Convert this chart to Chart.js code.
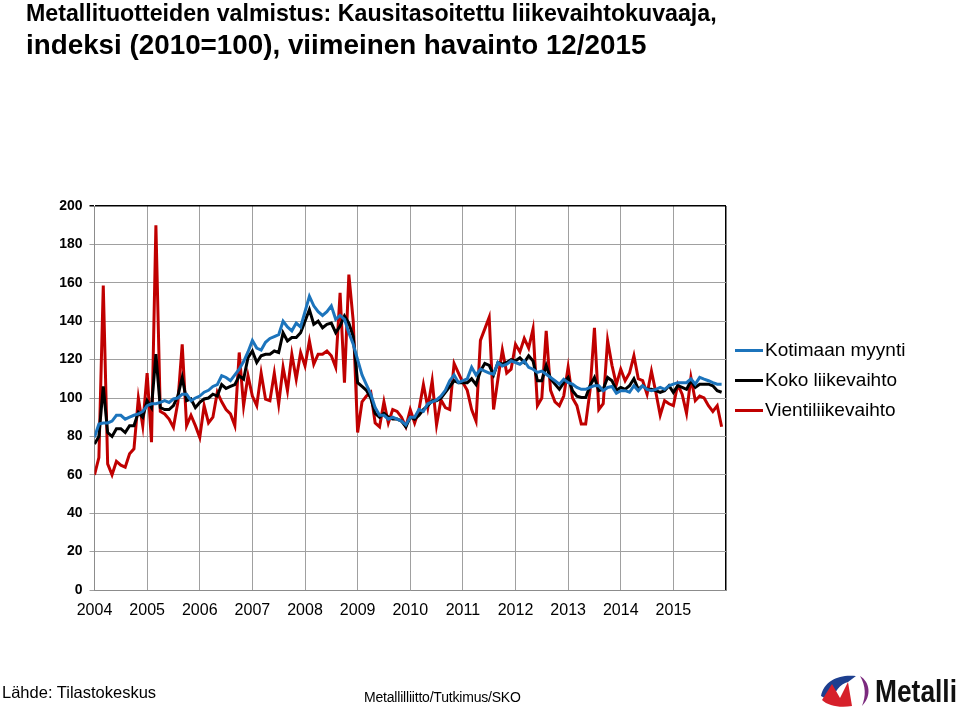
<!DOCTYPE html>
<html>
<head>
<meta charset="utf-8">
<script src="https://cdn.jsdelivr.net/npm/chart.js@4.4.1/dist/chart.umd.min.js"></script>
<style>
  body { margin: 0; background: #fff; }
  #wrap { position: relative; width: 960px; height: 710px; overflow: hidden; font-family: "Liberation Sans", Arial, sans-serif; }
  #Graph { position: absolute; left: 0; top: 0; }
  .title { position: absolute; left: 26px; font-weight: bold; color: #000; white-space: nowrap; }
  #legend { position: absolute; left: 735px; top: 335px; }
  .row { height: 30px; display: flex; align-items: center; font-size: 19px; white-space: nowrap; }
  .row span.ln { display: inline-block; width: 28px; height: 3px; margin-right: 2px; }
  .foot { position: absolute; white-space: nowrap; color: #000; }
</style>
</head>
<body>
<div id="wrap">
  <canvas id="Graph" width="960" height="710"></canvas>
  <div class="title" style="top:0px; font-size:23.2px;">Metallituotteiden valmistus: Kausitasoitettu liikevaihtokuvaaja,</div>
  <div class="title" style="top:29px; font-size:27.8px;">indeksi (2010=100), viimeinen havainto 12/2015</div>
  <div id="legend"></div>
  <div class="foot" style="left:2px; top:683px; font-size:16.5px;">Lähde: Tilastokeskus</div>
  <div class="foot" style="left:364px; top:689px; font-size:14px; letter-spacing:-0.2px;">Metallilliitto/Tutkimus/SKO</div>
  <svg style="position:absolute; left:818px; top:670px" width="140" height="40" viewBox="0 0 140 40">
    <path d="M3 26 C6 10 22 4 38 6 L30 12 C22 14 16 22 14 32 Z" fill="#1d3f8f"/>
    <path d="M4 30 L14 14 L22 28 L30 12 L34 36 C22 38 10 36 4 30 Z" fill="#d6202a"/>
    <path d="M42 6 C52 12 54 26 44 36 C48 26 48 16 42 6 Z" fill="#7b2a7e"/>
    <text x="57" y="32" font-family="Liberation Sans Narrow, Liberation Sans, Arial" font-weight="bold" font-size="31" fill="#111" textLength="82" lengthAdjust="spacingAndGlyphs">Metalli</text>
  </svg>
</div>
<script>
// vuodet (x-akselin tunnisteet), kuukausittaiset indeksit 1/2004 - 12/2015
years = ['2004','2005','2006','2007','2008','2009','2010','2011','2012','2013','2014','2015'];
yTicks = [0, 20, 40, 60, 80, 100, 120, 140, 160, 180, 200];
names = ['Kotimaan myynti', 'Koko liikevaihto', 'Vientiliikevaihto'];
colors = ['#1c74bc', '#000000', '#c00000'];

kotimaan = [
  79.5, 86.5, 87, 87, 88, 91, 91, 89, 90, 91, 91.7, 93,
  96, 97, 97, 97.7, 98.6, 97.7, 99.5, 100, 102, 102, 98.6, 100,
  101, 103, 104, 106, 107, 111.6, 110.7, 109, 112, 115, 119, 124,
  130, 126, 125, 129, 131, 132, 133, 140, 137, 135, 139, 137,
  145, 153, 148, 145, 143, 145, 148, 141, 143, 141, 134, 128,
  120, 112, 107, 102, 95, 91, 91, 89, 90, 89, 88, 86,
  90, 90, 94, 93, 97, 98, 99, 101, 104, 109, 112, 108,
  109, 110, 116, 112, 115, 114, 113, 112.4, 118.5, 116.7, 117.6, 119.3,
  118.5, 117.6, 119.3, 116, 115, 113.3, 114, 112.4, 110.7, 109, 107.2, 109.8,
  108, 107.2, 105.5, 104.5, 104.5, 105.5, 106.4, 106.4, 103.8, 105.5, 106, 102.5,
  103.8, 103.8, 103, 106.4, 103.8, 106.4, 104.5, 103.8, 104.5, 105.5, 104.5, 106.4,
  107.2, 108, 108, 108, 110, 107.2, 110.7, 109.8, 109, 108, 107.2, 107.2
];

koko = [
  76, 80, 106, 82, 80, 84, 84, 82, 85.6, 85.6, 92.5, 90,
  98.6, 95, 122.8, 95, 94, 94, 96, 101, 110.7, 98.6, 99.5, 95,
  97.7, 99.5, 100, 102, 101, 107, 105, 106, 107, 111.6, 109.8, 121,
  124.5, 118.5, 122, 122.8, 122.8, 124.5, 123.7, 134, 129.7, 131.5, 131.5, 134,
  140, 146, 138.4, 140, 136.6, 138.4, 139, 134, 137.5, 142.7, 139, 132,
  108, 106, 104, 100, 92, 90, 92, 90, 89, 89, 88, 85,
  90, 89, 91, 94, 96, 98.6, 98.6, 100, 103, 106, 109, 108,
  108, 108, 110, 107, 114, 118, 117, 112, 118.5, 117.6, 118.5, 120,
  119.3, 121, 118.5, 122, 119.3, 109, 109, 117, 110, 107.2, 104.5, 108,
  110.7, 103.8, 101, 100.3, 100.3, 106.4, 110.7, 103.8, 104.5, 110.7, 109, 104,
  105.5, 104.5, 106.4, 110, 104.5, 106.4, 104.5, 104.5, 103.8, 102.9, 103.8, 106.4,
  102.9, 106.4, 105.5, 104.5, 109, 105.5, 107.2, 107.2, 107.2, 106.4, 103.8, 103
];

vienti = [
  60, 69, 158.6, 65.7, 60, 67, 65, 64, 71, 73.5, 100, 85.6,
  113, 77, 190, 93, 91.7, 89, 84.7, 97.7, 128, 85.6, 91, 85.6,
  79.5, 96, 87, 90, 103, 98, 94, 91.7, 85.6, 123.7, 96, 111.6,
  101, 96, 113, 99.4, 98.6, 113, 96.8, 116, 103.8, 122.8, 109.8, 123.7,
  116.7, 129.7, 117.6, 122.8, 122.8, 124.5, 122, 116, 154.8, 108, 164.3, 140,
  82, 98, 101, 103, 87, 85, 98, 87, 94, 93, 90, 85,
  94, 87, 94, 107, 95, 109, 86, 99, 95, 94, 118, 113,
  108, 104, 94, 88, 130, 136, 142, 94, 110, 125, 113, 115,
  128, 124, 131, 126, 136, 96, 100, 135, 104, 98, 96, 101,
  116, 100, 96, 86.5, 86.5, 104, 136.5, 94, 97, 130, 117, 107,
  115, 109, 113, 122, 110, 109, 102, 114, 103, 91, 98.6, 97,
  96, 107, 102, 92, 110.7, 98.6, 101, 100, 96, 93, 96, 85
];

function toPoints(arr) {
    return arr.map(function(v, i) { return {x: i, y: v}; });
}

series = [kotimaan, koko, vienti];
datasets = [];
for (let i = 0; i < series.length; i++) {
    datasets.push({
        label: names[i],
        data: toPoints(series[i]),
        borderColor: colors[i],
        backgroundColor: colors[i],
        borderWidth: 3,
        pointRadius: 0,
        fill: false,
        lineTension: 0
    });
}

// legenda html:nä
legend = document.getElementById("legend");
for (let i = 0; i < names.length; i++) {
    let row = document.createElement("div");
    row.className = "row";
    row.innerHTML = '<span class="ln" style="background:' + colors[i] + '"></span>' + names[i];
    legend.appendChild(row);
}

var chart = new Chart("Graph", {
    type: "line",
    data: { datasets: datasets },
    options: {
        responsive: false,
        animation: false,
        layout: { padding: { left: 0, top: 206, right: 234, bottom: 0 } },
        plugins: {
            legend: { display: false },
            title: { display: false },
            tooltip: { enabled: false }
        },
        scales: {
            x: {
                type: "linear",
                min: 0,
                max: years.length * 12,
                afterFit: function(s) { s.height = 120; },
                afterBuildTicks: function(s) {
                    s.ticks = [];
                    for (let v = 0; v <= years.length * 12; v += 12) s.ticks.push({value: v});
                },
                ticks: {
                    padding: 11,
                    color: "#000",
                    font: { family: "Liberation Sans", size: 16 },
                    maxRotation: 0,
                    autoSkip: false,
                    callback: function(v) { return years[v / 12] || ""; }
                },
                grid: {
                    drawTicks: false,
                    color: function(c) { return c.tick && c.tick.value === years.length * 12 ? "#000" : "#a0a0a0"; },
                    lineWidth: function(c) { return c.tick && c.tick.value === years.length * 12 ? 1.5 : 1; }
                },
                border: { color: "#8c8c8c", width: 1 }
            },
            y: {
                min: 0,
                max: 200,
                afterFit: function(s) { s.width = 94.5; },
                afterBuildTicks: function(s) {
                    s.ticks = yTicks.map(function(v) { return {value: v}; });
                },
                ticks: {
                    padding: 7,
                    color: "#000",
                    font: { family: "Liberation Sans", size: 14, weight: "bold" }
                },
                grid: {
                    tickLength: 5,
                    color: function(c) { return c.tick && c.tick.value === 200 ? "#000" : "#a0a0a0"; },
                    lineWidth: function(c) { return c.tick && c.tick.value === 200 ? 1.5 : 1; }
                },
                border: { color: "#8c8c8c", width: 1 }
            }
        }
    }
});
</script>
</body>
</html>
